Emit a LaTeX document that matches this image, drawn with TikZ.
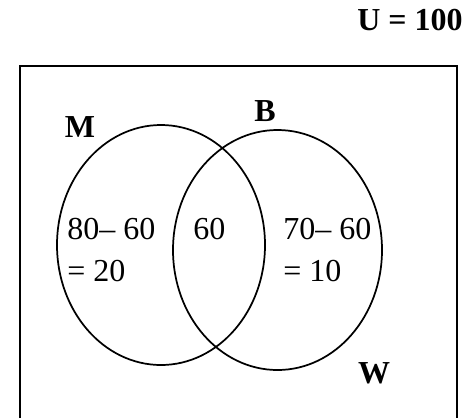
\documentclass[tikz,border=0pt]{standalone}
\usepackage{fontspec}
\setmainfont{Liberation Serif}
\usetikzlibrary{positioning}
\tikzset{
  setname/.style={font=\fontsize{24}{30}\selectfont\bfseries,inner sep=0pt},
  val/.style={font=\fontsize{24}{31.5}\selectfont,align=left,inner sep=0pt,anchor=north west},
  setring/.style={line width=1.3pt},
  univ/.style={line width=1.7pt},
}
\begin{document}
\begin{tikzpicture}[x=0.75pt,y=-0.75pt]
  \useasboundingbox (0,0) rectangle (470,418);
  % universal set
  \draw[univ] (20,418) -- (20,66) -- (457,66) -- (457,418);
  \node[setname] (U) at (410,20) {U = 100};
  % the two sets
  \draw[setring] (161,245) ellipse (104 and 120);
  \draw[setring] (277.5,250) ellipse (104.5 and 120);
  \node[setname] (M) at (80,127) {M};
  \node[setname] (B) at (265,111) {B};
  \node[setname] (W) at (374,373) {W};
  % region counts
  \node[val] (onlyM) at (67,218) {80– 60\\= 20};
  \node[val] (both) at (193,218) {60};
  \node[val] (onlyW) at (283,218) {70– 60\\= 10};
\end{tikzpicture}
\end{document}
